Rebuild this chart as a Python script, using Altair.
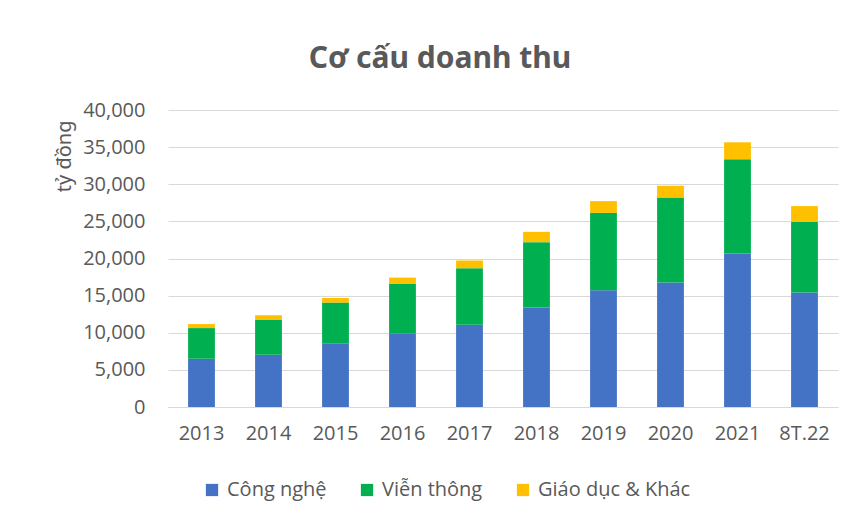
import altair as alt
import pandas as pd

years = ["2013", "2014", "2015", "2016", "2017", "2018", "2019", "2020", "2021", "8T.22"]
cong_nghe = [6500, 7040, 8530, 9880, 11090, 13390, 15720, 16760, 20670, 15410]
vien_thong = [4130, 4670, 5530, 6690, 7600, 8810, 10430, 11470, 12690, 9530]
giao_duc = [540, 640, 620, 860, 1040, 1390, 1580, 1570, 2290, 2120]

series = ["Công nghệ", "Viễn thông", "Giáo dục & Khác"]
colors = ["#4472C4", "#00B050", "#FFC000"]

rows = []
for i, y in enumerate(years):
    for k, (name, vals) in enumerate(zip(series, [cong_nghe, vien_thong, giao_duc])):
        rows.append({"year": y, "series": name, "value": vals[i], "order": k})
df = pd.DataFrame(rows)

FONT = "Open Sans"
TFONT = "Noto Sans"
GREY = "#595959"

chart = alt.Chart(df).mark_bar().encode(
    x=alt.X("year:N", sort=years,
            scale=alt.Scale(paddingInner=0.6, paddingOuter=0.3),
            axis=alt.Axis(title=None, labelAngle=0, ticks=False, domain=True,
                          domainColor="#d9d9d9", domainWidth=1.2,
                          labelPadding=16, labelFontSize=20, labelColor=GREY,
                          labelFont=FONT)),
    y=alt.Y("value:Q", stack="zero",
            scale=alt.Scale(domain=[0, 40000], nice=False),
            axis=alt.Axis(title="tỷ đồng", values=[0, 5000, 10000, 15000, 20000, 25000, 30000, 35000, 40000],
                          format=",d", ticks=False, domain=False,
                          grid=True, gridColor="#d9d9d9", gridWidth=1.2,
                          labelPadding=23, labelFontSize=20, labelColor=GREY, labelFont=FONT,
                          titleFontSize=20, titleFont=TFONT, titleColor=GREY,
                          titleFontWeight="normal", titleAnchor="end", titlePadding=8,
                          titleY=10)),
    color=alt.Color("series:N", sort=series,
                    scale=alt.Scale(domain=series, range=colors),
                    legend=alt.Legend(title=None, orient="none", direction="horizontal",
                                      legendX=34, legendY=370,
                                      symbolType="square", symbolSize=150,
                                      symbolStrokeWidth=0, labelFontSize=20,
                                      labelFont=FONT, labelColor=GREY,
                                      labelOffset=5, columnPadding=30, padding=0)),
    order=alt.Order("order:Q"),
).properties(
    width=670,
    height=297,
    title=alt.TitleParams("Cơ cấu doanh thu", font=TFONT, fontSize=30, fontWeight="bold",
                          color=GREY, anchor="middle", frame="group", dx=-63,
                          baseline="alphabetic", offset=2),
    autosize=alt.AutoSizeParams(type="none"),
    padding={"left": 160, "top": 102, "right": 16, "bottom": 100},
).configure_view(stroke=None)

chart.save("out.html", embed_options={"renderer": "svg", "actions": False})
